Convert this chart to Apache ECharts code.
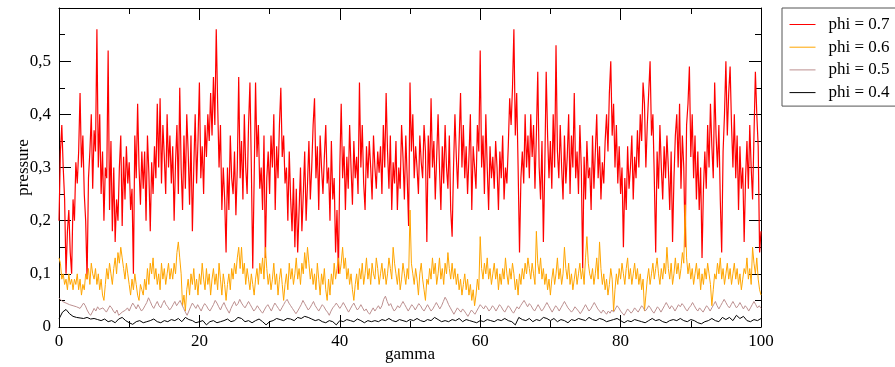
<!DOCTYPE html>
<html><head><meta charset="utf-8">
<script src="https://cdn.jsdelivr.net/npm/echarts@6/dist/echarts.min.js"></script>
<style>html,body{margin:0;padding:0;background:#fff}#c{width:895px;height:367px}</style>
</head><body><div id="c"></div>
<script>
const seriesNames = ['phi = 0.7','phi = 0.6','phi = 0.5','phi = 0.4'];
const xTicks = [0,20,40,60,80,100];
const yTicks = [0,0.1,0.2,0.3,0.4,0.5];
const stepRed = 0.2, stepOrange = 0.2, stepPink = 0.25, stepBlack = 0.5;
const red = [
0.20,0.33,0.38,0.30,0.24,0.10,0.18,0.22,0.14,0.10,
0.24,0.20,0.31,0.27,0.33,0.44,0.30,0.36,0.25,0.20,
0.09,0.28,0.33,0.40,0.26,0.37,0.33,0.56,0.30,0.40,
0.25,0.33,0.20,0.30,0.28,0.52,0.22,0.35,0.18,0.30,
0.16,0.24,0.20,0.30,0.36,0.19,0.32,0.24,0.34,0.27,
0.31,0.22,0.26,0.10,0.36,0.28,0.42,0.30,0.23,0.33,
0.26,0.33,0.20,0.36,0.29,0.18,0.31,0.25,0.34,0.28,
0.42,0.30,0.43,0.27,0.38,0.32,0.25,0.40,0.30,0.36,
0.27,0.34,0.20,0.31,0.38,0.25,0.45,0.30,0.22,0.36,
0.26,0.40,0.33,0.23,0.36,0.18,0.30,0.40,0.27,0.35,
0.46,0.28,0.34,0.25,0.38,0.32,0.40,0.35,0.44,0.36,
0.47,0.38,0.56,0.42,0.30,0.38,0.22,0.30,0.24,0.14,
0.30,0.22,0.36,0.28,0.25,0.33,0.21,0.30,0.47,0.28,
0.35,0.24,0.40,0.30,0.25,0.38,0.46,0.30,0.11,0.28,
0.46,0.32,0.38,0.26,0.30,0.22,0.36,0.13,0.28,0.33,
0.25,0.36,0.30,0.40,0.22,0.34,0.28,0.38,0.45,0.32,
0.36,0.27,0.30,0.20,0.33,0.24,0.18,0.28,0.15,0.26,
0.14,0.22,0.30,0.18,0.25,0.33,0.20,0.27,0.35,0.24,
0.30,0.38,0.43,0.28,0.34,0.22,0.36,0.30,0.25,0.32,
0.38,0.27,0.30,0.20,0.35,0.24,0.28,0.14,0.22,0.10,
0.30,0.42,0.28,0.34,0.22,0.32,0.26,0.38,0.30,0.23,
0.35,0.28,0.32,0.25,0.46,0.30,0.38,0.27,0.22,0.34,
0.28,0.35,0.30,0.24,0.36,0.30,0.26,0.33,0.29,0.34,
0.25,0.38,0.30,0.44,0.33,0.26,0.36,0.22,0.31,0.27,
0.35,0.22,0.30,0.26,0.38,0.32,0.24,0.36,0.28,0.19,
0.46,0.33,0.40,0.28,0.34,0.30,0.25,0.36,0.31,0.28,
0.38,0.33,0.16,0.36,0.28,0.43,0.30,0.35,0.24,0.32,
0.40,0.30,0.22,0.34,0.27,0.38,0.30,0.26,0.36,0.22,
0.17,0.30,0.40,0.32,0.26,0.35,0.44,0.30,0.38,0.28,
0.34,0.25,0.32,0.40,0.22,0.34,0.30,0.26,0.38,0.33,
0.52,0.30,0.36,0.25,0.40,0.30,0.22,0.34,0.28,0.32,
0.26,0.35,0.30,0.22,0.33,0.28,0.36,0.24,0.30,0.27,
0.34,0.43,0.38,0.45,0.56,0.36,0.44,0.30,0.14,0.28,
0.33,0.27,0.40,0.30,0.36,0.28,0.40,0.32,0.38,0.26,
0.36,0.48,0.30,0.24,0.35,0.16,0.30,0.48,0.36,0.28,
0.35,0.26,0.40,0.30,0.53,0.33,0.28,0.38,0.30,0.24,
0.36,0.27,0.32,0.40,0.25,0.36,0.30,0.44,0.28,0.33,
0.25,0.38,0.30,0.11,0.32,0.24,0.35,0.28,0.30,0.22,
0.36,0.26,0.33,0.40,0.28,0.34,0.24,0.31,0.27,0.35,
0.40,0.33,0.44,0.50,0.36,0.42,0.30,0.38,0.27,0.34,
0.25,0.30,0.15,0.28,0.22,0.34,0.26,0.30,0.36,0.24,
0.32,0.28,0.37,0.30,0.40,0.35,0.46,0.42,0.30,0.38,
0.44,0.50,0.36,0.40,0.28,0.14,0.33,0.26,0.38,0.30,
0.24,0.34,0.28,0.36,0.30,0.22,0.33,0.16,0.28,0.36,
0.40,0.30,0.42,0.26,0.36,0.30,0.15,0.38,0.42,0.49,
0.32,0.40,0.28,0.36,0.24,0.33,0.22,0.30,0.13,0.26,
0.33,0.26,0.38,0.30,0.42,0.34,0.28,0.46,0.36,0.30,
0.38,0.24,0.14,0.33,0.40,0.50,0.36,0.44,0.49,0.38,
0.30,0.40,0.28,0.36,0.22,0.34,0.26,0.30,0.16,0.28,
0.35,0.26,0.38,0.30,0.24,0.36,0.48,0.40,0.34,0.14,
0.18];
const orange = [
0.13,0.12,0.09,0.10,0.08,0.09,0.07,0.10,0.08,0.09,
0.07,0.09,0.08,0.10,0.07,0.09,0.06,0.08,0.07,0.10,
0.09,0.11,0.08,0.12,0.10,0.09,0.11,0.08,0.10,0.07,
0.09,0.06,0.05,0.08,0.11,0.09,0.12,0.10,0.08,0.11,
0.13,0.10,0.14,0.12,0.15,0.13,0.11,0.09,0.12,0.10,
0.08,0.06,0.09,0.07,0.10,0.08,0.06,0.05,0.08,0.07,
0.06,0.09,0.07,0.11,0.08,0.12,0.10,0.13,0.09,0.11,
0.08,0.10,0.07,0.12,0.09,0.11,0.08,0.10,0.12,0.09,
0.11,0.09,0.12,0.10,0.14,0.16,0.13,0.10,0.04,0.06,
0.03,0.07,0.09,0.06,0.10,0.08,0.11,0.07,0.09,0.06,
0.10,0.08,0.12,0.09,0.07,0.11,0.08,0.10,0.06,0.09,
0.11,0.08,0.10,0.07,0.12,0.09,0.06,0.10,0.08,0.05,
0.08,0.10,0.07,0.11,0.09,0.12,0.10,0.13,0.15,0.11,
0.15,0.10,0.12,0.08,0.11,0.09,0.07,0.10,0.08,0.06,
0.09,0.11,0.08,0.12,0.10,0.13,0.09,0.15,0.11,0.08,
0.10,0.07,0.09,0.12,0.08,0.10,0.06,0.09,0.11,0.08,
0.05,0.08,0.10,0.07,0.12,0.09,0.11,0.08,0.10,0.13,
0.09,0.11,0.08,0.12,0.10,0.14,0.11,0.15,0.12,0.09,
0.11,0.08,0.10,0.07,0.12,0.09,0.06,0.10,0.08,0.11,
0.07,0.05,0.09,0.06,0.10,0.08,0.12,0.09,0.11,0.13,
0.10,0.12,0.15,0.11,0.13,0.09,0.11,0.08,0.10,0.07,
0.05,0.08,0.10,0.07,0.11,0.09,0.12,0.08,0.10,0.13,
0.09,0.11,0.08,0.12,0.10,0.09,0.13,0.11,0.08,0.10,
0.12,0.09,0.11,0.08,0.10,0.13,0.11,0.09,0.15,0.12,
0.10,0.08,0.11,0.07,0.09,0.12,0.10,0.08,0.11,0.09,
0.22,0.12,0.10,0.08,0.11,0.09,0.06,0.10,0.12,0.09,
0.07,0.05,0.09,0.08,0.11,0.09,0.13,0.10,0.12,0.08,
0.10,0.13,0.09,0.11,0.08,0.12,0.10,0.14,0.11,0.09,
0.12,0.09,0.11,0.08,0.10,0.07,0.09,0.06,0.08,0.10,
0.07,0.09,0.06,0.08,0.05,0.07,0.04,0.06,0.09,0.07,
0.17,0.11,0.09,0.12,0.10,0.13,0.09,0.11,0.08,0.10,
0.12,0.09,0.11,0.07,0.10,0.08,0.11,0.09,0.13,0.10,
0.08,0.11,0.09,0.12,0.10,0.07,0.09,0.06,0.10,0.08,
0.11,0.09,0.12,0.10,0.13,0.11,0.09,0.12,0.10,0.08,
0.18,0.12,0.10,0.13,0.09,0.11,0.08,0.10,0.07,0.09,
0.06,0.09,0.11,0.08,0.10,0.13,0.09,0.11,0.08,0.10,
0.15,0.11,0.09,0.12,0.08,0.10,0.07,0.09,0.11,0.08,
0.10,0.12,0.09,0.11,0.08,0.13,0.17,0.12,0.10,0.09,
0.11,0.08,0.10,0.13,0.09,0.16,0.11,0.08,0.10,0.07,
0.09,0.06,0.08,0.11,0.09,0.03,0.07,0.10,0.08,0.11,
0.09,0.12,0.10,0.08,0.11,0.13,0.09,0.11,0.08,0.10,
0.12,0.09,0.11,0.08,0.10,0.07,0.09,0.03,0.06,0.09,
0.11,0.08,0.10,0.12,0.09,0.11,0.13,0.10,0.08,0.11,
0.09,0.12,0.10,0.15,0.11,0.09,0.12,0.08,0.10,0.13,
0.10,0.12,0.09,0.11,0.14,0.12,0.23,0.13,0.10,0.12,
0.09,0.11,0.08,0.10,0.12,0.09,0.11,0.07,0.10,0.08,
0.11,0.09,0.12,0.10,0.08,0.04,0.07,0.10,0.09,0.12,
0.10,0.13,0.09,0.11,0.08,0.10,0.12,0.09,0.11,0.08,
0.10,0.12,0.09,0.11,0.08,0.10,0.07,0.09,0.11,0.10,
0.13,0.09,0.11,0.08,0.15,0.12,0.10,0.13,0.09,0.07,
0.06];
const pink = [
0.055,0.052,0.048,0.050,0.045,0.047,0.042,0.044,
0.040,0.043,0.038,0.041,0.035,0.038,0.045,0.040,
0.032,0.026,0.022,0.028,0.035,0.030,0.038,0.033,
0.030,0.036,0.032,0.028,0.034,0.040,0.036,0.030,
0.026,0.032,0.022,0.020,0.028,0.025,0.032,0.036,
0.030,0.038,0.045,0.040,0.034,0.042,0.036,0.030,
0.034,0.040,0.046,0.055,0.048,0.040,0.035,0.042,
0.048,0.040,0.036,0.044,0.050,0.042,0.038,0.032,
0.036,0.042,0.048,0.040,0.045,0.050,0.042,0.035,
0.028,0.022,0.030,0.038,0.045,0.040,0.035,0.042,
0.036,0.030,0.038,0.044,0.040,0.034,0.030,0.036,
0.042,0.050,0.045,0.038,0.032,0.040,0.046,0.038,
0.032,0.026,0.035,0.042,0.048,0.040,0.044,0.052,
0.045,0.040,0.036,0.042,0.048,0.042,0.036,0.030,
0.034,0.040,0.035,0.030,0.026,0.032,0.038,0.042,
0.036,0.030,0.038,0.045,0.040,0.035,0.030,0.036,
0.042,0.048,0.052,0.045,0.040,0.035,0.030,0.025,
0.030,0.036,0.042,0.050,0.044,0.038,0.032,0.036,
0.042,0.048,0.040,0.035,0.030,0.036,0.042,0.038,
0.032,0.028,0.022,0.030,0.036,0.040,0.045,0.040,
0.035,0.040,0.046,0.040,0.034,0.028,0.034,0.040,
0.045,0.038,0.032,0.036,0.042,0.036,0.030,0.034,
0.028,0.024,0.030,0.036,0.030,0.035,0.040,0.034,
0.040,0.052,0.058,0.048,0.040,0.044,0.036,0.030,
0.034,0.040,0.036,0.042,0.048,0.042,0.036,0.030,
0.036,0.042,0.038,0.032,0.038,0.044,0.040,0.034,
0.030,0.036,0.042,0.036,0.030,0.034,0.040,0.046,
0.040,0.034,0.040,0.048,0.056,0.050,0.042,0.036,
0.030,0.024,0.030,0.036,0.032,0.028,0.034,0.030,
0.025,0.020,0.026,0.032,0.028,0.024,0.030,0.036,
0.042,0.038,0.034,0.040,0.036,0.030,0.034,0.040,
0.036,0.030,0.036,0.042,0.038,0.032,0.028,0.034,
0.040,0.036,0.030,0.026,0.032,0.038,0.034,0.040,
0.045,0.050,0.044,0.038,0.044,0.040,0.034,0.030,
0.036,0.042,0.036,0.030,0.034,0.040,0.046,0.040,
0.034,0.028,0.034,0.040,0.036,0.030,0.036,0.042,
0.048,0.042,0.036,0.032,0.028,0.032,0.038,0.034,
0.030,0.025,0.030,0.036,0.042,0.036,0.030,0.034,
0.040,0.046,0.040,0.034,0.030,0.026,0.032,0.028,
0.024,0.030,0.026,0.032,0.028,0.034,0.040,0.036,
0.030,0.026,0.022,0.028,0.034,0.030,0.026,0.030,
0.036,0.032,0.028,0.034,0.040,0.036,0.030,0.034,
0.040,0.036,0.030,0.026,0.032,0.038,0.034,0.028,
0.034,0.040,0.046,0.040,0.034,0.040,0.036,0.030,
0.036,0.042,0.038,0.044,0.040,0.034,0.030,0.036,
0.040,0.046,0.040,0.034,0.030,0.036,0.032,0.028,
0.034,0.040,0.036,0.030,0.036,0.042,0.048,0.040,
0.034,0.040,0.046,0.052,0.046,0.040,0.036,0.042,
0.048,0.042,0.036,0.040,0.046,0.040,0.034,0.040,
0.036,0.030,0.036,0.042,0.048,0.042,0.036,0.040,
0.035];
const black = [
0.015,0.028,0.033,0.025,0.020,0.018,0.017,0.016,0.018,0.015,
0.016,0.014,0.012,0.015,0.010,0.012,0.008,0.015,0.018,0.012,
0.008,0.005,0.010,0.012,0.008,0.010,0.012,0.015,0.010,0.008,
0.012,0.010,0.014,0.012,0.016,0.010,0.018,0.014,0.012,0.008,
0.010,0.012,0.004,0.010,0.012,0.008,0.010,0.012,0.015,0.010,
0.012,0.018,0.016,0.010,0.012,0.008,0.012,0.015,0.010,0.004,
0.010,0.012,0.016,0.014,0.012,0.016,0.015,0.012,0.018,0.016,
0.020,0.018,0.015,0.012,0.014,0.010,0.008,0.012,0.010,0.004,
0.012,0.010,0.014,0.012,0.010,0.015,0.012,0.008,0.012,0.010,
0.012,0.010,0.014,0.012,0.016,0.012,0.010,0.014,0.012,0.010,
0.014,0.012,0.016,0.012,0.010,0.014,0.012,0.018,0.014,0.010,
0.012,0.010,0.014,0.012,0.016,0.010,0.014,0.012,0.010,0.008,
0.012,0.010,0.014,0.012,0.010,0.014,0.012,0.016,0.012,0.010,
0.004,0.018,0.014,0.012,0.016,0.010,0.014,0.012,0.018,0.016,
0.012,0.016,0.010,0.014,0.012,0.008,0.014,0.012,0.016,0.014,
0.012,0.018,0.014,0.012,0.016,0.014,0.010,0.012,0.014,0.016,
0.012,0.008,0.012,0.010,0.014,0.012,0.010,0.008,0.012,0.016,
0.012,0.014,0.010,0.008,0.012,0.014,0.012,0.016,0.012,0.010,
0.014,0.012,0.008,0.006,0.010,0.012,0.016,0.012,0.010,0.018,
0.014,0.018,0.012,0.022,0.016,0.020,0.012,0.010,0.014,0.012,
0.016];

const FONT = '"Liberation Serif","DejaVu Serif",serif';
const FS = 17;
function pairs(arr, step){ return arr.map((v,i)=>[+(i*step).toFixed(3), v]); }
const chart = echarts.init(document.getElementById('c'), null, {renderer:'canvas'});
const tick = {inside:true, length:12, lineStyle:{color:'#000', width:1}};
const minor = {show:true, splitNumber:2, length:6, lineStyle:{color:'#000', width:1}};
const line = {show:true, onZero:false, lineStyle:{color:'#000', width:1}};
const mk = (name, data, color, w) => ({name, type:'line', data, symbol:'none', showSymbol:false,
  lineStyle:{color, width:w}, itemStyle:{color}, animation:false, z: 2});
chart.setOption({
  animation:false,
  grid:{left:59, right:134, top:8, bottom:40, outerBoundsMode:'none', containLabel:false},
  legend:{orient:'vertical', left:782, top:8, data:seriesNames,
    itemWidth:26, itemHeight:14, itemGap:5.7,
    itemStyle:{opacity:0},
    lineStyle:{width:1},
    padding:[8,40,5,7], borderColor:'#555', borderWidth:1,
    textStyle:{fontFamily:FONT, fontSize:FS, color:'#000', padding:[0,0,0,8]}},
  xAxis:[
    {type:'value', min:0, max:100, interval:20, position:'bottom',
     name:'gamma', nameLocation:'middle', nameGap:19, nameMoveOverlap:false,
     nameTextStyle:{fontFamily:FONT, fontSize:FS, color:'#000'},
     axisLine:line, axisTick:tick, minorTick:minor, splitLine:{show:false},
     axisLabel:{fontFamily:FONT, fontSize:FS, color:'#000', margin:6}},
    {type:'value', min:0, max:100, interval:20, position:'top',
     axisLine:line, axisTick:tick, minorTick:minor, splitLine:{show:false}, axisLabel:{show:false}}
  ],
  yAxis:[
    {type:'value', min:0, max:0.6, interval:0.1, position:'left',
     name:'pressure', nameLocation:'middle', nameGap:27, nameRotate:90, nameMoveOverlap:false,
     nameTextStyle:{fontFamily:FONT, fontSize:FS, color:'#000'},
     axisLine:line, axisTick:tick, minorTick:minor, splitLine:{show:false},
     axisLabel:{fontFamily:FONT, fontSize:FS, color:'#000', margin:8, showMaxLabel:false,
       formatter:v=> yTicks.some(t=>Math.abs(t-v)<1e-9) ? (Math.round(v*10)/10).toString().replace('.',',') : ''}},
    {type:'value', min:0, max:0.6, interval:0.1, position:'right',
     axisLine:line, axisTick:tick, minorTick:minor, splitLine:{show:false}, axisLabel:{show:false}}
  ],
  series:[
    mk(seriesNames[0], pairs(red, stepRed), '#ff0000', 1.2),
    mk(seriesNames[1], pairs(orange, stepOrange), '#ffa500', 1),
    mk(seriesNames[2], pairs(pink, stepPink), '#bc8f8f', 1),
    mk(seriesNames[3], pairs(black, stepBlack), '#000000', 1)
  ]
});
</script></body></html>
